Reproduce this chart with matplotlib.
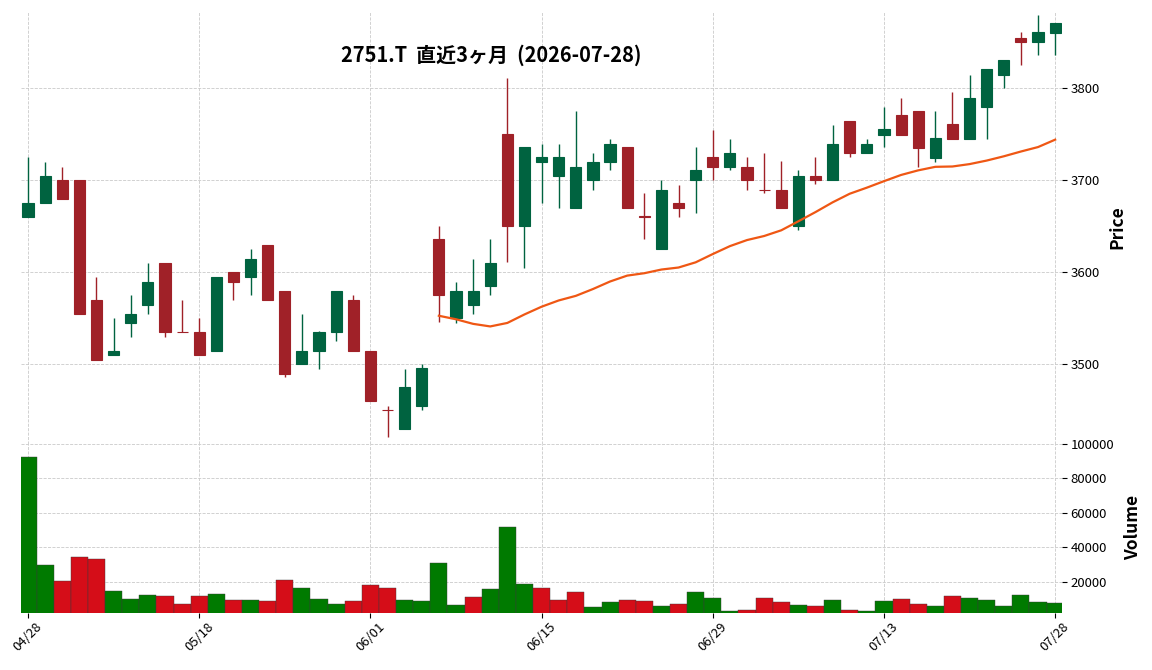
import numpy as np
import pandas as pd
import matplotlib
matplotlib.use('Agg')
import matplotlib.pyplot as plt

plt.rcParams['font.family'] = ['Noto Sans CJK JP', 'DejaVu Sans']

# ---- data ----
title = "2751.T  直近3ヶ月  (2026-07-28)"
holidays = ['2026-04-29', '2026-05-04', '2026-05-05', '2026-05-06', '2026-07-20']
dates = pd.bdate_range('2026-04-28', '2026-07-28')
dates = dates[~dates.isin(pd.to_datetime(holidays))]

opens = [3660, 3675, 3700, 3700, 3570, 3510, 3545, 3565, 3610, 3535,
         3535, 3515, 3600, 3595, 3630, 3580, 3500, 3515, 3535, 3570,
         3515, 3450, 3430, 3455, 3636, 3550, 3565, 3585, 3750, 3650,
         3720, 3705, 3670, 3700, 3720, 3736, 3661, 3625, 3675, 3700,
         3725, 3715, 3715, 3690, 3690, 3650, 3705, 3700, 3765, 3730,
         3749, 3771, 3775, 3724, 3761, 3745, 3780, 3815, 3855, 3850,
         3860]
highs = [3725, 3720, 3715, 3700, 3595, 3550, 3575, 3610, 3610, 3570,
         3550, 3595, 3600, 3625, 3630, 3580, 3555, 3536, 3580, 3575,
         3515, 3455, 3495, 3500, 3650, 3590, 3615, 3636, 3811, 3736,
         3740, 3740, 3775, 3730, 3745, 3736, 3686, 3700, 3695, 3736,
         3755, 3745, 3725, 3730, 3721, 3711, 3725, 3760, 3765, 3745,
         3780, 3790, 3775, 3775, 3796, 3815, 3821, 3831, 3861, 3880,
         3871]
lows = [3660, 3675, 3680, 3555, 3505, 3510, 3530, 3555, 3530, 3535,
        3510, 3515, 3570, 3575, 3570, 3486, 3500, 3495, 3525, 3515,
        3460, 3421, 3430, 3450, 3546, 3545, 3555, 3575, 3611, 3605,
        3675, 3670, 3670, 3690, 3711, 3670, 3636, 3625, 3660, 3665,
        3700, 3711, 3690, 3686, 3670, 3646, 3696, 3700, 3725, 3730,
        3736, 3749, 3715, 3720, 3745, 3745, 3745, 3800, 3825, 3836,
        3836]
closes = [3675, 3705, 3680, 3555, 3505, 3515, 3555, 3590, 3535, 3535,
          3510, 3595, 3590, 3615, 3570, 3490, 3515, 3535, 3580, 3515,
          3460, 3450, 3475, 3496, 3575, 3580, 3580, 3610, 3650, 3736,
          3725, 3725, 3715, 3720, 3740, 3670, 3660, 3690, 3670, 3711,
          3715, 3730, 3700, 3690, 3670, 3705, 3700, 3740, 3730, 3740,
          3756, 3749, 3735, 3746, 3745, 3790, 3821, 3831, 3850, 3861,
          3871]
volumes = [92300, 29700, 20400, 34300, 33100, 14600, 9950, 12300, 11700, 7050,
           11700, 12850, 9400, 9400, 8800, 21000, 16300, 9950, 7050, 8800,
           18100, 16300, 9400, 8800, 30800, 6500, 11100, 15750, 51700, 18650,
           16300, 9400, 14000, 5300, 8200, 9400, 8800, 5900, 7050, 14000,
           10500, 3000, 3600, 10500, 8200, 6500, 5900, 9400, 3600, 3000,
           8800, 9950, 7050, 5900, 11700, 10500, 9400, 5900, 12300, 8200,
           7600]
ma_period = 25

# ---- style ----
up_c, down_c = '#006340', '#A02128'
vup_c, vdown_c = '#007a00', '#d50d18'
ma_c = '#ef5714'
grid_kw = dict(color='#cacaca', linestyle='--', linewidth=0.6)

o = np.array(opens, float)
h = np.array(highs, float)
l = np.array(lows, float)
c = np.array(closes, float)
v = np.array(volumes, float)
x = np.arange(len(c))

W, H = 1152, 670
fig = plt.figure(figsize=(W / 100, H / 100), dpi=100)
left, right = 21, 1062
p_top, split, v_bot = 12, 443.5, 612.7
axp = fig.add_axes([left / W, (H - split) / H, (right - left) / W, (split - p_top) / H])
axv = fig.add_axes([left / W, (H - v_bot) / H, (right - left) / W, (v_bot - split) / H], sharex=axp)

# candles
up = c > o
cols = np.where(up, up_c, down_c)
axp.vlines(x, l, h, colors=cols, linewidth=1.0, zorder=3)
axp.bar(x, np.abs(c - o), bottom=np.minimum(o, c), width=0.65, color=cols,
        edgecolor=cols, linewidth=0.8, zorder=4)

# moving average
ma = pd.Series(c).rolling(ma_period).mean()
axp.plot(x, ma, color=ma_c, linewidth=1.6, zorder=5)

# volume colored by change vs previous close
prev = np.concatenate([[o[0]], c[:-1]])
vcols = np.where(c > prev, vup_c, vdown_c)
axv.bar(x, v, width=1.0, color=vcols, edgecolor='#3a3a3a', linewidth=0.3, zorder=3)

# axes
axp.set_xlim(-0.41, 60.40)
axp.set_ylim(3414, 3883)
axv.set_ylim(2030, 100120)

for ax in (axp, axv):
    for s in ax.spines.values():
        s.set_visible(False)
    ax.grid(True, **grid_kw)
    ax.set_axisbelow(True)
    ax.yaxis.tick_right()
    ax.tick_params(axis='y', which='both', left=False, right=True, length=3.5,
                   width=0.8, pad=2.5, labelsize=9.5)

axp.set_yticks([3500, 3600, 3700, 3800])
axv.set_yticks([20000, 40000, 60000, 80000, 100000])
axp.tick_params(axis='x', bottom=False, labelbottom=False)

tick_idx = list(range(0, len(dates), 10))
axv.set_xticks(tick_idx)
axv.set_xticklabels([dates[i].strftime('%m/%d') for i in tick_idx], rotation=45,
                    ha='center', fontsize=9.5)
axv.tick_params(axis='x', length=3.5, width=0.8, pad=2)

fig.text(1117 / W, (H - 227) / H, 'Price', rotation=90, ha='center', va='center',
         fontsize=12.5, fontweight='bold')
fig.text(1133 / W, (H - 527) / H, 'Volume', rotation=90, ha='center', va='center',
         fontsize=12.5, fontweight='bold')
fig.text(491 / W, (H - 55) / H, title, ha='center', va='center', fontsize=14.4,
         fontweight='bold')

fig.savefig('out.png', dpi=100)
